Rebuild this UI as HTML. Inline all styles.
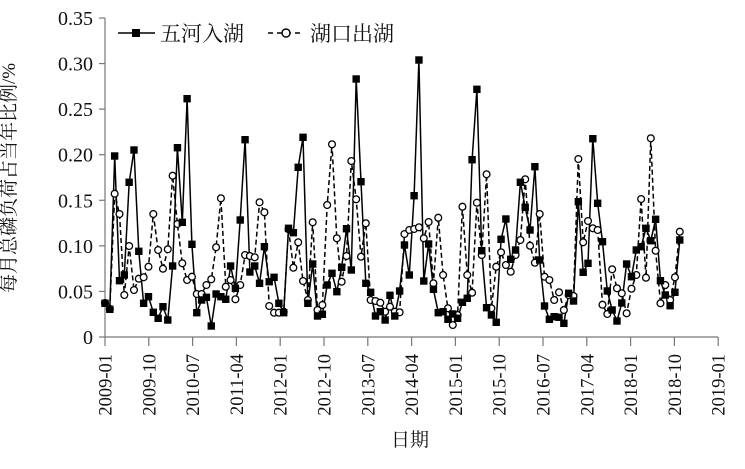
<!DOCTYPE html>
<html><head><meta charset="utf-8"><style>
html,body{margin:0;padding:0;background:#fff;}
svg text{font-family:"Liberation Serif","Noto Serif CJK SC",serif;fill:#111;}
</style></head><body>
<svg id="s" width="745" height="464" xmlns="http://www.w3.org/2000/svg">
<g font-size="19">
<text x="15" y="178" transform="rotate(-90 15 178)" text-anchor="middle" font-family="Liberation Serif, Noto Serif CJK SC, serif">每月总磷负荷占当年比例/%</text>
<text x="410" y="446" text-anchor="middle" font-family="Liberation Serif, Noto Serif CJK SC, serif">日期</text>
</g>
</svg>
<script>
var sq=[303.3,309.3,156,280.7,275,182.3,150,251.3,303.3,296.7,312.3,318.3,306.7,320,266,147.7,222.3,98.7,244.3,312.7,300,297.3,326,294,296.7,299.3,266,288.3,220,139.7,272,266,283.3,246.7,281.7,277.3,303.3,312.7,228.3,232.7,167.3,137.3,303.3,
264,316,314.3,285,273.3,291.7,267.3,228.7,270,79,181.7,283.3,292.3,316,311.7,320,295.3,316,291,245,275,195.7,60,281,244,289.3,312.7,311.7,319.3,314,318.3,302.3,298.3,159.7,89.3,250.7,307.7,315,322.3,239.3,219,259.3,
250,182.3,207.3,230,166.7,260,306,319.3,316.7,317.3,323.3,293.3,301,201.7,272.3,263.3,138.7,203.3,241.7,291,310,321,303,264,276.7,250,246.7,228.3,240.7,219.3,280.7,295,305.7,292.3,240];
var ci=[303,309,193.7,214,295,246,290,278.7,277.3,266.7,214,250,268.7,249.3,175.7,224,263.3,280,276.7,294,294,285,279.3,247.3,198.3,286.7,280,299.3,285,255,256,257.3,202.3,212.3,306,312.7,312.7,311.7,229.3,267.7,242.3,281,300,
222.3,310,305,205,144.3,238.3,281.7,256,161,199.3,256.7,223.3,300,301,302.7,311.7,306.7,311.7,312.3,234,230,229,227.3,238.3,222,283.3,217.7,275,308.3,325,315,206.7,275,292.7,202.7,255,174.3,308.3,266.7,252.3,265,271.7,
255,240,179.3,245.7,262.7,214,276.7,280,300,292.3,310,295,296,159,242.3,221,228.3,230,304.7,314,269.3,288.3,293.3,313.3,288.7,275,199,277.7,138.3,250.7,303.3,285,300,277.3,231.7];
var NS="http://www.w3.org/2000/svg",s=document.getElementById("s");
function el(t,a,txt){var e=document.createElementNS(NS,t);for(var k in a)e.setAttribute(k,a[k]);if(txt!=null)e.textContent=txt;s.appendChild(e);return e;}
var X0=105,Y0=337,dx=4.83;
el("line",{x1:X0,y1:18,x2:X0,y2:Y0,stroke:"#777","stroke-width":1.2});
el("line",{x1:X0,y1:Y0,x2:718,y2:Y0,stroke:"#777","stroke-width":1.2});
for(var i=0;i<=7;i++){var y=Y0-i*(Y0-18)/7;el("line",{x1:X0-6,y1:y,x2:X0,y2:y,stroke:"#777","stroke-width":1.2});
el("text",{x:93,y:y+7,"text-anchor":"end","font-size":"20"},i==0?"0":(i*0.05).toFixed(2));}
var labs=["2009-01","2009-10","2010-07","2011-04","2012-01","2012-10","2013-07","2014-04","2015-01","2015-10","2016-07","2017-04","2018-01","2018-10","2019-01"];
for(var i=0;i<15;i++){var x=X0+i*43.8;el("line",{x1:x,y1:Y0,x2:x,y2:Y0+9,stroke:"#777","stroke-width":1.2});
el("text",{x:x+6.5,y:354,"text-anchor":"end","font-size":"18.5",transform:"rotate(-90 "+(x+6.5)+" 354)"},labs[i]);}
function pts(a){return a.map(function(v,i){return (X0+i*dx).toFixed(1)+","+v}).join(" ");}
el("polyline",{points:pts(ci),fill:"none",stroke:"#000","stroke-width":1.5,"stroke-dasharray":"5,3"});
el("polyline",{points:pts(sq),fill:"none",stroke:"#000","stroke-width":1.5});
ci.forEach(function(v,i){el("circle",{cx:X0+i*dx,cy:v,r:3.4,fill:"#fff",stroke:"#000","stroke-width":1.3});});
sq.forEach(function(v,i){el("rect",{x:X0+i*dx-3.7,y:v-3.7,width:7.4,height:7.4,fill:"#000"});});
el("line",{x1:118,y1:33,x2:155,y2:33,stroke:"#000","stroke-width":1.6});
el("rect",{x:132,y:29,width:8,height:8,fill:"#000"});
el("text",{x:160,y:41,"font-size":"21","font-family":"Noto Serif CJK SC, serif"},"五河入湖");
el("line",{x1:268,y1:33,x2:302,y2:33,stroke:"#000","stroke-width":1.6,"stroke-dasharray":"5,4"});
el("circle",{cx:286,cy:33,r:4,fill:"#fff",stroke:"#000","stroke-width":1.4});
el("text",{x:310,y:41,"font-size":"21","font-family":"Noto Serif CJK SC, serif"},"湖口出湖");
</script>
</body></html>
